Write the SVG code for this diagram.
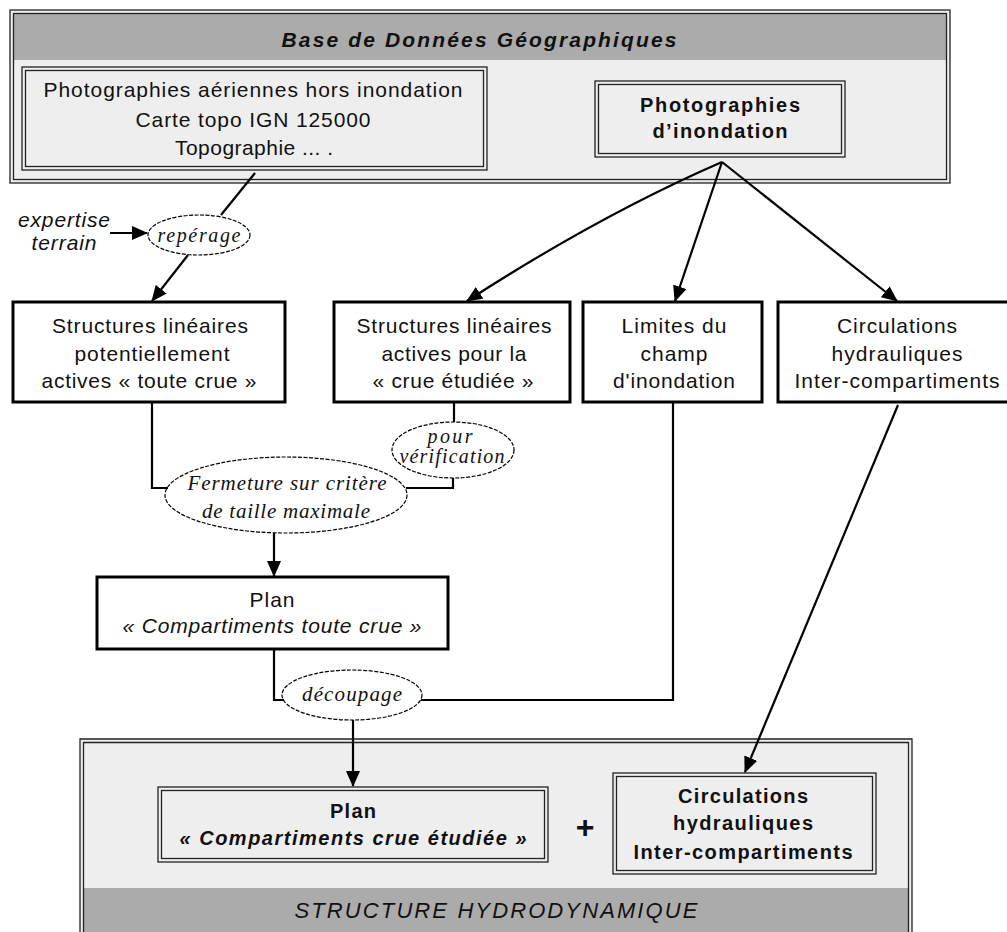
<svg xmlns="http://www.w3.org/2000/svg" width="1007" height="932" viewBox="0 0 1007 932">
<defs>
<marker id="ah" markerWidth="16" markerHeight="14" refX="15" refY="7" orient="auto" markerUnits="userSpaceOnUse">
<path d="M0,0 L16,7 L0,14 Z" fill="#000"/>
</marker>
<style>
.frame{fill:none;stroke:#222;stroke-width:1.3}
.body{fill:#eeeeee}
.band{fill:#ababab}
.box{fill:#fff;stroke:#000;stroke-width:3}
.t{font-family:"Liberation Sans",Arial,sans-serif;font-size:20px;fill:#111;text-anchor:middle}
.r{font-size:21px}
.b{font-weight:bold}
.i{font-style:italic}
.lab{font-family:"Liberation Serif","Times New Roman",serif;font-style:italic;font-size:20px;fill:#111;text-anchor:middle}
.ell{fill:#fff;stroke:#000;stroke-width:1.2;stroke-dasharray:4 1.5}
.c{fill:none;stroke:#000;stroke-width:2.2}
</style>
</defs>
<rect width="1007" height="932" fill="#fff"/>

<g id="bdg">
<rect class="body" x="10" y="10" width="940" height="173"/>
<rect class="band" x="14" y="14" width="932" height="46"/>
<rect class="frame" x="10" y="10" width="940" height="173"/>
<rect class="frame" x="13.5" y="13.5" width="933" height="166"/>
<text class="t b i" x="479" y="47" style="font-size:21px" textLength="395" lengthAdjust="spacing">Base de Données Géographiques</text>
</g>

<g id="photos-hors">
<rect class="frame" x="22" y="67" width="465" height="103"/>
<rect class="frame" x="25.5" y="70.5" width="458" height="96"/>
<text class="t r" x="253" y="97" textLength="419" lengthAdjust="spacing">Photographies aériennes hors inondation</text>
<text class="t r" x="253" y="127" textLength="235" lengthAdjust="spacing">Carte topo IGN 125000</text>
<text class="t r" x="254" y="155" textLength="158" lengthAdjust="spacing">Topographie ... .</text>
</g>

<g id="photos-inond">
<rect class="frame" x="595" y="81" width="250" height="76"/>
<rect class="frame" x="598.5" y="84.5" width="243" height="69"/>
<text class="t b" x="720" y="112" textLength="160" lengthAdjust="spacing">Photographies</text>
<text class="t b" x="720" y="138" textLength="135" lengthAdjust="spacing">d’inondation</text>
</g>

<g id="expertise">
<text class="t i r" x="64" y="227" textLength="92" lengthAdjust="spacing">expertise</text>
<text class="t i r" x="64" y="250" textLength="65" lengthAdjust="spacing">terrain</text>
</g>

<g id="reperage">
<ellipse class="ell" cx="199" cy="235" rx="51" ry="20"/>
<text class="lab" x="199" y="242" textLength="83" lengthAdjust="spacing">repérage</text>
</g>

<g id="struct-pot">
<rect class="box" x="13" y="302" width="272" height="100"/>
<text class="t r" x="150" y="333" textLength="196" lengthAdjust="spacing">Structures linéaires</text>
<text class="t r" x="152" y="361" textLength="155" lengthAdjust="spacing">potentiellement</text>
<text class="t r" x="149" y="388" textLength="215" lengthAdjust="spacing">actives « toute crue »</text>
</g>

<g id="struct-act">
<rect class="box" x="334" y="302" width="236" height="100"/>
<text class="t r" x="454" y="333" textLength="195" lengthAdjust="spacing">Structures linéaires</text>
<text class="t r" x="454" y="361" textLength="145" lengthAdjust="spacing">actives pour la</text>
<text class="t r" x="453" y="388" textLength="161" lengthAdjust="spacing">« crue étudiée »</text>
</g>

<g id="limites">
<rect class="box" x="583" y="302" width="179" height="100"/>
<text class="t r" x="674" y="333" textLength="105" lengthAdjust="spacing">Limites du</text>
<text class="t r" x="674" y="361" textLength="67" lengthAdjust="spacing">champ</text>
<text class="t r" x="674" y="388" textLength="122" lengthAdjust="spacing">d'inondation</text>
</g>

<g id="circulations">
<rect class="box" x="778" y="302" width="240" height="100"/>
<text class="t r" x="897" y="333" textLength="120" lengthAdjust="spacing">Circulations</text>
<text class="t r" x="897" y="361" textLength="131" lengthAdjust="spacing">hydrauliques</text>
<text class="t r" x="897" y="388" textLength="205" lengthAdjust="spacing">Inter-compartiments</text>
</g>

<g id="pour-verif">
<ellipse class="ell" cx="453" cy="450" rx="61" ry="28"/>
<text class="lab" x="450" y="443" textLength="45" lengthAdjust="spacing">pour</text>
<text class="lab" x="452" y="463" textLength="105" lengthAdjust="spacing">vérification</text>
</g>

<g id="fermeture">
<ellipse class="ell" cx="286" cy="495" rx="121" ry="38"/>
<text class="lab" x="287" y="490" style="font-size:21px" textLength="199" lengthAdjust="spacing">Fermeture sur critère</text>
<text class="lab" x="286" y="518" style="font-size:21px" textLength="168" lengthAdjust="spacing">de taille maximale</text>
</g>

<g id="plan-toute">
<rect class="box" x="97" y="577" width="351" height="72"/>
<text class="t r" x="272" y="607" textLength="45" lengthAdjust="spacing">Plan</text>
<text class="t i r" x="272" y="633" textLength="299" lengthAdjust="spacing">« Compartiments toute crue »</text>
</g>

<g id="decoupage">
<ellipse class="ell" cx="352" cy="695" rx="70" ry="25"/>
<text class="lab" x="352" y="701" style="font-size:21px" textLength="100" lengthAdjust="spacing">découpage</text>
</g>

<g id="struct-hydro">
<rect class="body" x="80" y="739" width="832" height="200"/>
<rect class="band" x="84" y="888" width="824" height="50"/>
<path class="frame" d="M80,940 V739 H912 V940"/>
<path class="frame" d="M83.5,940 V742.5 H908.5 V940"/>
<text class="t i" x="496" y="918" style="font-size:22px" textLength="403" lengthAdjust="spacing">STRUCTURE HYDRODYNAMIQUE</text>
</g>

<g id="plan-etudiee">
<rect class="frame" x="158" y="787" width="390" height="75"/>
<rect class="frame" x="161.5" y="790.5" width="383" height="68"/>
<text class="t b" x="353" y="818" textLength="46" lengthAdjust="spacing">Plan</text>
<text class="t b i" x="353" y="845" textLength="347" lengthAdjust="spacing">« Compartiments crue étudiée »</text>
</g>

<g id="plus">
<text class="t b" x="585" y="838" style="font-size:32px">+</text>
</g>

<g id="circ-final">
<rect class="frame" x="613" y="773" width="263" height="101"/>
<rect class="frame" x="616.5" y="776.5" width="256" height="94"/>
<text class="t b" x="743" y="803" textLength="130" lengthAdjust="spacing">Circulations</text>
<text class="t b" x="743" y="830" textLength="140" lengthAdjust="spacing">hydrauliques</text>
<text class="t b" x="743" y="859" textLength="219" lengthAdjust="spacing">Inter-compartiments</text>
</g>

<g id="connectors">
<path class="c" d="M255,173 L221,215"/>
<path class="c" d="M110,233 L147,233" marker-end="url(#ah)"/>
<path class="c" d="M188,255 L152,301" marker-end="url(#ah)"/>
<path class="c" d="M722,162 Q600,215 467,301" marker-end="url(#ah)"/>
<path class="c" d="M722,162 L675,301" marker-end="url(#ah)"/>
<path class="c" d="M722,162 L897,301" marker-end="url(#ah)"/>
<path class="c" d="M152,402 V488 H168"/>
<path class="c" d="M454,402 V422"/>
<path class="c" d="M453,478 V488 H406"/>
<path class="c" d="M274,533 V576" marker-end="url(#ah)"/>
<path class="c" d="M274,649 V700 H284"/>
<path class="c" d="M421,700 H673 V402"/>
<path class="c" d="M353,720 V786" marker-end="url(#ah)"/>
<path class="c" d="M898,405 L745,772" marker-end="url(#ah)"/>
</g>
</svg>
